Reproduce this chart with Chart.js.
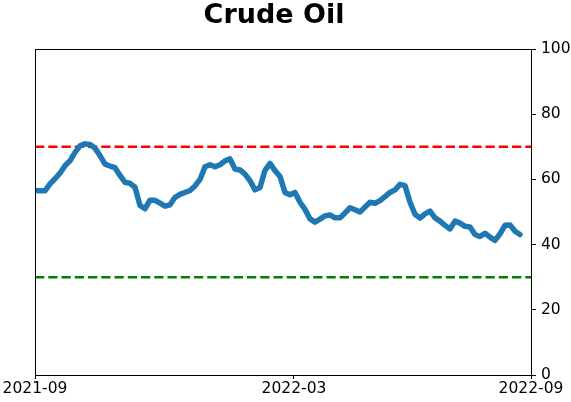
<!DOCTYPE html>
<html>
<head>
<meta charset="utf-8">
<script src="https://cdn.jsdelivr.net/npm/chart.js@4/dist/chart.umd.min.js"></script>
<style>
  html, body { margin: 0; padding: 0; background: #fff; }
  #wrap { width: 571px; height: 402px; }
</style>
</head>
<body>
<div id="wrap"><canvas id="c" width="571" height="402"></canvas></div>
<script>
const chartTitle = 'Crude Oil';
const values = [
  56.6, 56.5, 56.5, 58.6, 60.2, 61.9, 64.2, 65.7, 68.3, 70.3,
  70.9, 70.7, 69.6, 67.3, 64.7, 64.1, 63.6, 61.2, 59.1, 58.8,
  57.6, 52.0, 51.0, 53.6, 53.6, 52.7, 51.8, 52.2, 54.5, 55.4,
  56.0, 56.6, 58.0, 60.0, 63.9, 64.5, 63.9, 64.5, 65.7, 66.3,
  63.2, 62.9, 61.6, 59.6, 56.8, 57.5, 62.8, 64.9, 62.7, 60.9,
  56.0, 55.3, 56.0, 53.0, 50.8, 47.9, 46.9, 47.8, 48.8, 49.1,
  48.2, 48.2, 49.7, 51.3, 50.7, 50.0, 51.5, 53.0, 52.7, 53.5,
  54.7, 56.0, 56.8, 58.5, 58.1, 53.0, 49.3, 48.1, 49.4, 50.3,
  48.2, 47.2, 45.9, 44.8, 47.2, 46.6, 45.6, 45.4, 43.1, 42.5,
  43.5, 42.3, 41.3, 43.3, 45.9, 46.0, 44.1, 43.1
];
const xTickLabels = ['2021-09', '2022-03', '2022-09'];
const xTickPositions = [0, 51.8, 99.2];
const upperThreshold = [70];
const lowerThreshold = [30];
const yTicks = [0, 20, 40, 60, 80, 100];

const xMin = xTickPositions[0];
const xMax = xTickPositions[xTickPositions.length - 1];
const linePoints = values.map((v, i) => ({ x: i, y: v }));
const hline = (v) => [{ x: xMin, y: v }, { x: xMax, y: v }];

const FONT = 'DejaVu Sans';

const framePlugin = {
  id: 'frame',
  afterDraw(chart) {
    const { ctx, chartArea: a } = chart;
    ctx.save();
    ctx.strokeStyle = '#000';
    ctx.lineWidth = 1;
    ctx.strokeRect(Math.round(a.left) + 0.5, Math.round(a.top) + 0.5,
                   Math.round(a.right - a.left), Math.round(a.bottom - a.top));
    ctx.restore();
  }
};

const titlePlugin = {
  id: 'ctitle',
  afterDraw(chart) {
    const { ctx, chartArea: a } = chart;
    ctx.save();
    ctx.font = 'bold 27px "' + FONT + '"';
    ctx.fillStyle = '#000';
    ctx.textAlign = 'center';
    ctx.textBaseline = 'alphabetic';
    ctx.fillText(chartTitle, (a.left + a.right) / 2 - 9, 23);
    ctx.restore();
  }
};

new Chart(document.getElementById('c'), {
  type: 'line',
  data: {
    datasets: [
      {
        data: hline(upperThreshold[0]),
        borderColor: '#ff0000',
        borderWidth: 2.5,
        borderDash: [9.25, 4],
        pointRadius: 0,
        order: 2
      },
      {
        data: hline(lowerThreshold[0]),
        borderColor: '#008000',
        borderWidth: 2.5,
        borderDash: [9.25, 4],
        pointRadius: 0,
        order: 2
      },
      {
        data: linePoints,
        borderColor: '#1f77b4',
        borderWidth: 5.5,
        borderJoinStyle: 'round',
        borderCapStyle: 'round',
        pointRadius: 0,
        tension: 0,
        order: 1
      }
    ]
  },
  options: {
    responsive: false,
    animation: false,
    devicePixelRatio: 1,
    layout: { padding: { left: 35, top: 49, right: 0, bottom: 0 } },
    plugins: {
      legend: { display: false },
      title: { display: false },
      tooltip: { enabled: false }
    },
    scales: {
      x: {
        type: 'linear',
        min: xMin,
        max: xMax,
        afterBuildTicks(scale) {
          scale.ticks = xTickPositions.map(v => ({ value: v }));
        },
        afterFit(scale) { scale.height = 27; },
        ticks: {
          autoSkip: false,
          maxRotation: 0,
          padding: 1,
          color: '#000',
          font: { family: FONT, size: 15.5 },
          callback(value) {
            const i = xTickPositions.indexOf(value);
            return i >= 0 ? xTickLabels[i] : '';
          }
        },
        grid: { drawOnChartArea: false, drawTicks: true, tickLength: 4, color: '#000' },
        border: { display: true, color: '#000', width: 1 }
      },
      y: {
        position: 'right',
        min: 0,
        max: 100,
        afterBuildTicks(scale) {
          scale.ticks = yTicks.map(v => ({ value: v }));
        },
        afterFit(scale) { scale.width = 40; },
        ticks: {
          padding: 5,
          color: '#000',
          font: { family: FONT, size: 15.5 }
        },
        grid: { drawOnChartArea: false, drawTicks: true, tickLength: 5, color: '#000' },
        border: { display: true, color: '#000', width: 1 }
      }
    }
  },
  plugins: [framePlugin, titlePlugin]
});
</script>
</body>
</html>
